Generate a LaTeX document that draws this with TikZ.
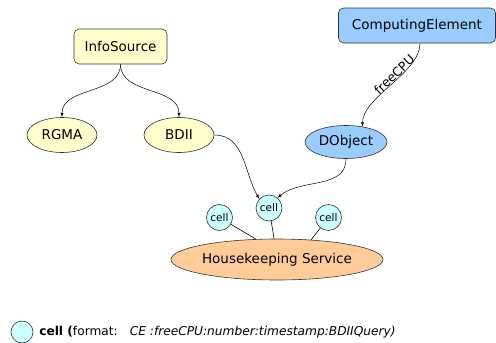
\documentclass[tikz,border=0pt]{standalone}
\usepackage{fontspec}
\setmainfont{DejaVu Sans}
\usetikzlibrary{arrows,shapes.geometric}

\definecolor{srcyellow}{HTML}{FFFFCC}
\definecolor{ceblue}{HTML}{99CCFF}
\definecolor{cellcyan}{HTML}{CCFFFF}
\definecolor{hkorange}{HTML}{FFCC99}

\begin{document}
\begin{tikzpicture}[x=1pt, y=-1pt,
    font=\fontsize{13.5}{16}\selectfont,
    line width=0.6pt,
  box/.style = {rectangle, rounded corners=5pt, draw=black!80,% class boxes
                minimum height=35pt, inner sep=0pt},
  obj/.style = {ellipse, draw=black!80, inner sep=0pt,% instances
                minimum width=70pt, minimum height=35pt},
 cell/.style = {circle, draw=black!80, fill=cellcyan, inner sep=0pt,
                minimum size=26pt, font=\fontsize{10.5}{12}\selectfont},
  arr/.style = {-latex, line width=0.5pt},
                        ]
\useasboundingbox (0,0) rectangle (496,343);
% sources
\node[box, fill=srcyellow, minimum width=93pt] (info) at (120.5,46.5) {InfoSource};
\node[obj, fill=srcyellow] (rgma) at (62,135) {RGMA};
\node[obj, fill=srcyellow] (bdii) at (179,135) {BDII};
\node[box, fill=ceblue, minimum width=157pt] (ce) at (417,25.5) {ComputingElement};
\node[obj, fill=ceblue, minimum width=82pt, minimum height=33pt] (dobj) at (346,142) {DObject};
% housekeeping and its cells
\node[obj, fill=hkorange, minimum width=188pt, minimum height=41pt] (hk) at (277,259.5) {Housekeeping Service};
\node[cell] (cl) at (219.5,217.5) {cell};
\node[cell] (cm) at (269,208) {cell};
\node[cell] (cr) at (328.5,217.5) {cell};
\draw[arr] (info.south) to[out=-90, in=90] (rgma.north);
\draw[arr] (info.south) to[out=-90, in=90] (bdii.north);
\draw[arr] ([xshift=3pt]ce.south) to[out=-90, in=90, looseness=0.75]
    node[pos=0.42, sloped, above, inner sep=0.5pt, font=\fontsize{12.5}{14}\selectfont] {freeCPU} (dobj.43);
\draw[arr] (bdii.east) to[out=0, in=120] (cm.137);
\draw[arr] (dobj.south) to[out=-90, in=40] (cm.50);
\draw (cl) -- (hk.136);
\draw (cm) -- (hk.98);
\draw (cr) -- (hk.30);
% legend
\node[cell, minimum size=22pt] (key) at (22,332) {};
\node[anchor=west, inner sep=0pt, font=\fontsize{12.2}{14}\selectfont] (keytext) at (39,332)
    {\textbf{cell (}format:\hspace{12pt}\textit{CE :freeCPU:number:timestamp:BDIIQuery)}};
\end{tikzpicture}
\end{document}
